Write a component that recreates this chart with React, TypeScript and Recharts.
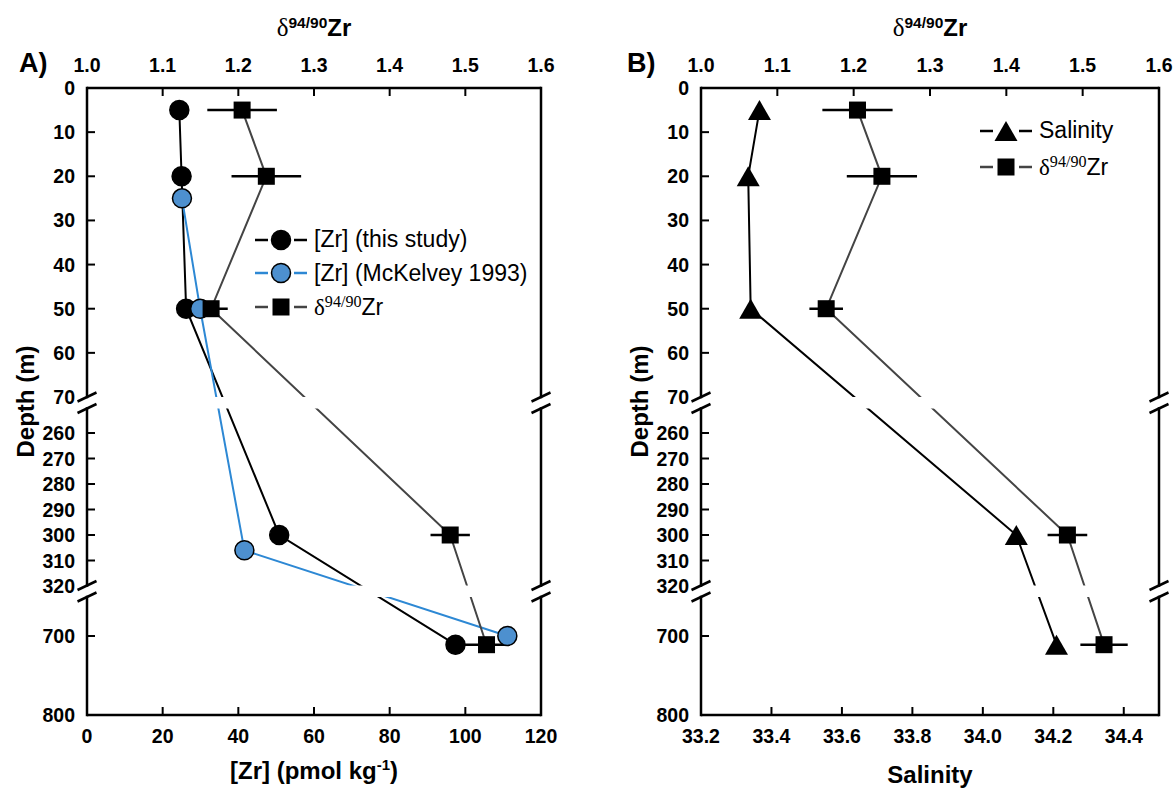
import React from "react";
import {
  ScatterChart,
  Scatter,
  XAxis,
  YAxis,
  ErrorBar,
  ReferenceArea,
  ReferenceLine,
  ReferenceDot,
  Legend,
} from "recharts";

const SANS = "'Liberation Sans', Arial, Helvetica, sans-serif";
const SERIF = "'Liberation Serif', 'Times New Roman', serif";

// sample depths (m) and measured values
const DEPTHS = [5, 20, 50, 300, 711];
const ZR_THIS_STUDY = [24.4, 25.0, 26.2, 50.8, 97.4];
const MCKELVEY_DEPTHS = [25, 50, 306, 700];
const ZR_MCKELVEY = [25.1, 29.9, 41.6, 111.1];
const DELTA_ZR = [1.205, 1.237, 1.164, 1.48, 1.528];
const DELTA_ERR = [0.046, 0.046, 0.022, 0.026, 0.031];
const SALINITY = [33.366, 33.334, 33.341, 34.095, 34.209];

// tick labels
const DEPTH_TICKS = [0, 10, 20, 30, 40, 50, 60, 70, 260, 270, 280, 290, 300, 310, 320, 700, 800];
const DEPTH_INNER = [10, 20, 30, 40, 50, 60, 260, 270, 280, 290, 300, 310, 700];
const ZR_TICKS = [0, 20, 40, 60, 80, 100, 120];
const SAL_TICKS = [33.2, 33.4, 33.6, 33.8, 34.0, 34.2, 34.4];
const DELTA_TICKS = [1.0, 1.1, 1.2, 1.3, 1.4, 1.5, 1.6];

// broken depth axis: each piece maps a depth range onto a slice of the plot height
const PLOT_H = 627;
const PIECES = [
  { lo: 0, hi: 70, from: 0, to: 309 },
  { lo: 250, hi: 320, from: 319.5, to: 498 },
  { lo: 650, hi: 800, from: 508.5, to: PLOT_H },
];
const GAPS = [
  [309, 320.5],
  [497.5, 509],
];

function depthPos(d: number) {
  const p = PIECES.find((s) => d <= s.hi) || PIECES[PIECES.length - 1];
  return p.from + ((d - p.lo) / (p.hi - p.lo)) * (p.to - p.from);
}

const toPoints = (xs: number[], depths: number[], errs?: number[]) =>
  xs.map((x, i) => ({ x, y: depthPos(depths[i]), err: errs ? errs[i] : 0 }));

const BLUE_LINE = "#2d88d4";
const BLUE_FILL = "#4d90cf";
const GREY_LINE = "#444";

// markers
const Dot = ({ cx, cy, fill = "#000" }: any) => (
  <circle cx={cx} cy={cy} r={9.5} fill={fill} stroke="#000" strokeWidth={1.5} />
);
const Square = ({ cx, cy }: any) => <rect x={cx - 8.5} y={cy - 8.5} width={17} height={17} fill="#000" />;
const Triangle = ({ cx, cy }: any) => (
  <path d={`M${cx},${cy - 10}L${cx + 11.5},${cy + 10}L${cx - 11.5},${cy + 10}Z`} fill="#000" />
);

const near = (list: number[], v: number) => list.some((t) => Math.abs(t - v) < 1e-6);

function XTick(props: any) {
  const { x, y, payload, side, inner, digits } = props;
  const v = payload.value;
  const top = side === "top";
  const axisY = top ? y + 16 : y - 14;
  return (
    <g>
      {near(inner, v) && (
        <line x1={x} x2={x} y1={axisY} y2={top ? axisY + 8 : axisY - 8} stroke="#000" strokeWidth={2} />
      )}
      <text
        x={x}
        y={y}
        dy={top ? 0 : "0.71em"}
        textAnchor="middle"
        fontFamily={SANS}
        fontWeight="bold"
        fontSize={19.5}
        fill="#000"
      >
        {v.toFixed(digits)}
      </text>
    </g>
  );
}

function YTick(props: any) {
  const { x, y, payload } = props;
  const depth = DEPTH_TICKS.find((d) => Math.abs(depthPos(d) - payload.value) < 0.01);
  const axisX = x + 12;
  return (
    <g>
      {depth !== undefined && DEPTH_INNER.includes(depth) && (
        <line x1={axisX} x2={axisX + 8} y1={y} y2={y} stroke="#000" strokeWidth={2} />
      )}
      <text x={x} y={y} dy="0.36em" textAnchor="end" fontFamily={SANS} fontWeight="bold" fontSize={19.5} fill="#000">
        {depth}
      </text>
    </g>
  );
}

function TopTitle(props: any) {
  const { viewBox, letter, letterX } = props;
  const cx = viewBox.x + viewBox.width / 2;
  const by = viewBox.y - 22;
  return (
    <g>
      <text x={cx} y={by} textAnchor="middle" fill="#000" fontFamily={SANS} fontWeight="bold" fontSize={24}>
        <tspan fontFamily={SERIF} fontWeight="normal" fontSize={25}>
          δ
        </tspan>
        <tspan dy={-8} fontSize={15.5}>
          94/90
        </tspan>
        <tspan dy={8}>Zr</tspan>
      </text>
      <text x={letterX} y={viewBox.y + 14} fontFamily={SANS} fontWeight="bold" fontSize={27} fill="#000">
        {letter}
      </text>
    </g>
  );
}

function BottomTitle(props: any) {
  const { viewBox, kind } = props;
  const cx = viewBox.x + viewBox.width / 2;
  if (kind === "zr") {
    return (
      <text x={cx} y={viewBox.y + 64} textAnchor="middle" fontFamily={SANS} fontWeight="bold" fontSize={24} fill="#000">
        <tspan>[Zr] (pmol kg</tspan>
        <tspan dy={-9} fontSize={15}>
          -1
        </tspan>
        <tspan dy={9}>)</tspan>
      </text>
    );
  }
  return (
    <text x={cx} y={viewBox.y + 68} textAnchor="middle" fontFamily={SANS} fontWeight="bold" fontSize={24} fill="#000">
      Salinity
    </text>
  );
}

function YTitle(props: any) {
  const { viewBox } = props;
  const cx = viewBox.x - 1.5;
  const cy = viewBox.y + viewBox.height / 2;
  return (
    <text
      x={cx}
      y={cy}
      dy="0.36em"
      transform={`rotate(-90 ${cx} ${cy})`}
      textAnchor="middle"
      fontFamily={SANS}
      fontWeight="bold"
      fontSize={24}
      fill="#000"
    >
      Depth (m)
    </text>
  );
}

const DeltaLabel = () => (
  <span>
    <span style={{ fontFamily: SERIF }}>
      δ<span style={{ fontSize: "0.7em", verticalAlign: "0.5em" }}>94/90</span>
    </span>
    Zr
  </span>
);

function LegendBox({ items, rowH }: any) {
  return (
    <div style={{ fontFamily: SANS, fontSize: 23, color: "#000" }}>
      {items.map((it: any) => (
        <div key={it.key} style={{ display: "flex", alignItems: "center", height: rowH }}>
          <svg width={52} height={26} style={{ display: "block" }}>
            <line x1={0} x2={13} y1={13} y2={13} stroke={it.color} strokeWidth={2.5} />
            <line x1={39} x2={52} y1={13} y2={13} stroke={it.color} strokeWidth={2.5} />
            {it.marker(26, 13)}
          </svg>
          <span style={{ marginLeft: 7, whiteSpace: "nowrap", lineHeight: 1 }}>{it.label}</span>
        </div>
      ))}
    </div>
  );
}

function Panel(props: any) {
  const { left, margin, letter, letterX, xDomain, xTicks, xInner, xDigits, xKind, series, legend } = props;
  const edges = [xDomain[0], xDomain[1]];
  const frameRuns = [
    [0, GAPS[0][0]],
    [GAPS[0][1], GAPS[1][0]],
    [GAPS[1][1], PLOT_H],
  ];
  return (
    <div style={{ position: "absolute", left, top: 0 }}>
      <ScatterChart width={587} height={790} margin={margin}>
        <XAxis
          xAxisId="bottom"
          orientation="bottom"
          type="number"
          dataKey="x"
          domain={xDomain}
          ticks={xTicks}
          interval={0}
          allowDataOverflow
          height={30}
          tickSize={0}
          tickMargin={14}
          tickLine={false}
          axisLine={{ stroke: "#000", strokeWidth: 2.5 }}
          tick={<XTick side="bottom" inner={xInner} digits={xDigits} />}
          label={<BottomTitle kind={xKind} />}
        />
        <XAxis
          xAxisId="top"
          orientation="top"
          type="number"
          dataKey="x"
          domain={[1.0, 1.6]}
          ticks={DELTA_TICKS}
          interval={0}
          allowDataOverflow
          height={30}
          tickSize={0}
          tickMargin={16}
          tickLine={false}
          axisLine={{ stroke: "#000", strokeWidth: 2.5 }}
          tick={<XTick side="top" inner={[1.1, 1.2, 1.3, 1.4, 1.5]} digits={1} />}
          label={<TopTitle letter={letter} letterX={letterX} />}
        />
        <YAxis
          yAxisId="depth"
          type="number"
          dataKey="y"
          domain={[0, PLOT_H]}
          reversed
          ticks={DEPTH_TICKS.map(depthPos)}
          interval={0}
          allowDataOverflow
          width={60}
          tickSize={0}
          tickMargin={12}
          tickLine={false}
          axisLine={false}
          tick={<YTick />}
          label={<YTitle />}
        />
        {series.map((s: any) => (
          <Scatter
            key={s.key}
            name={s.key}
            xAxisId={s.axis}
            yAxisId="depth"
            data={s.data}
            fill={s.color}
            line={{ stroke: s.color, strokeWidth: 2 }}
            lineType="joint"
            shape={(p: any) => s.marker(p.cx, p.cy)}
            isAnimationActive={false}
          >
            {s.withErr && (
              <ErrorBar dataKey="err" direction="x" width={0} stroke="#000" strokeWidth={2.5} isAnimationActive={false} />
            )}
          </Scatter>
        ))}
        {GAPS.map((g, i) => (
          <ReferenceArea
            key={`gap${i}`}
            xAxisId="bottom"
            yAxisId="depth"
            x1={xDomain[0]}
            x2={xDomain[1]}
            y1={g[0]}
            y2={g[1]}
            fill="#fff"
            fillOpacity={1}
            stroke="none"
            ifOverflow="visible"
            zIndex={700}
          />
        ))}
        {edges.map((ex) =>
          frameRuns.map((r, i) => (
            <ReferenceLine
              key={`f${ex}-${i}`}
              xAxisId="bottom"
              yAxisId="depth"
              segment={[
                { x: ex, y: r[0] },
                { x: ex, y: r[1] },
              ]}
              stroke="#000"
              strokeWidth={2.5}
              strokeLinecap="square"
              zIndex={800}
            />
          ))
        )}
        {edges.map((ex) =>
          GAPS.flat().map((gy, i) => (
            <ReferenceDot
              key={`s${ex}-${i}`}
              xAxisId="bottom"
              yAxisId="depth"
              x={ex}
              y={gy}
              r={1}
              zIndex={800}
              shape={(p: any) => (
                <line x1={p.cx - 9.5} y1={p.cy + 4.5} x2={p.cx + 9.5} y2={p.cy - 4.5} stroke="#000" strokeWidth={2.5} />
              )}
            />
          ))
        )}
        <Legend
          layout="horizontal"
          verticalAlign="middle"
          align="center"
          wrapperStyle={{ left: legend.left, top: legend.top, width: 300 }}
          content={() => <LegendBox items={legend.items} rowH={legend.rowH} />}
        />
      </ScatterChart>
    </div>
  );
}

const blackDot = (cx: number, cy: number) => <Dot cx={cx} cy={cy} />;
const blueDot = (cx: number, cy: number) => <Dot cx={cx} cy={cy} fill={BLUE_FILL} />;
const square = (cx: number, cy: number) => <Square cx={cx} cy={cy} />;
const triangle = (cx: number, cy: number) => <Triangle cx={cx} cy={cy} />;

export default function App() {
  const deltaSeries = {
    key: "delta",
    axis: "top",
    data: toPoints(DELTA_ZR, DEPTHS, DELTA_ERR),
    color: GREY_LINE,
    marker: square,
    withErr: true,
  };
  const seriesA = [
    { key: "zr", axis: "bottom", data: toPoints(ZR_THIS_STUDY, DEPTHS), color: "#000", marker: blackDot },
    { key: "mck", axis: "bottom", data: toPoints(ZR_MCKELVEY, MCKELVEY_DEPTHS), color: BLUE_LINE, marker: blueDot },
    deltaSeries,
  ];
  const seriesB = [
    { key: "sal", axis: "bottom", data: toPoints(SALINITY, DEPTHS), color: "#000", marker: triangle },
    deltaSeries,
  ];
  const legendA = {
    left: 255,
    top: 223,
    rowH: 33.5,
    items: [
      { key: "a", color: "#000", marker: blackDot, label: "[Zr] (this study)" },
      { key: "b", color: BLUE_LINE, marker: blueDot, label: "[Zr] (McKelvey 1993)" },
      { key: "c", color: GREY_LINE, marker: square, label: <DeltaLabel /> },
    ],
  };
  const legendB = {
    left: 393,
    top: 113,
    rowH: 35.7,
    items: [
      { key: "a", color: "#000", marker: triangle, label: "Salinity" },
      { key: "c", color: GREY_LINE, marker: square, label: <DeltaLabel /> },
    ],
  };
  return (
    <div style={{ position: "absolute", left: 0, top: 0, width: 1174, height: 790, background: "#fff" }}>
      <Panel
        left={0}
        margin={{ top: 58, right: 46, bottom: 45, left: 27 }}
        letter="A)"
        letterX={19}
        xDomain={[0, 120]}
        xTicks={ZR_TICKS}
        xInner={[20, 40, 60, 80, 100]}
        xDigits={0}
        xKind="zr"
        series={seriesA}
        legend={legendA}
      />
      <Panel
        left={587}
        margin={{ top: 58, right: 15, bottom: 45, left: 54 }}
        letter="B)"
        letterX={40}
        xDomain={[33.2, 34.5]}
        xTicks={SAL_TICKS}
        xInner={[33.4, 33.6, 33.8, 34.0, 34.2, 34.4]}
        xDigits={1}
        xKind="sal"
        series={seriesB}
        legend={legendB}
      />
    </div>
  );
}
